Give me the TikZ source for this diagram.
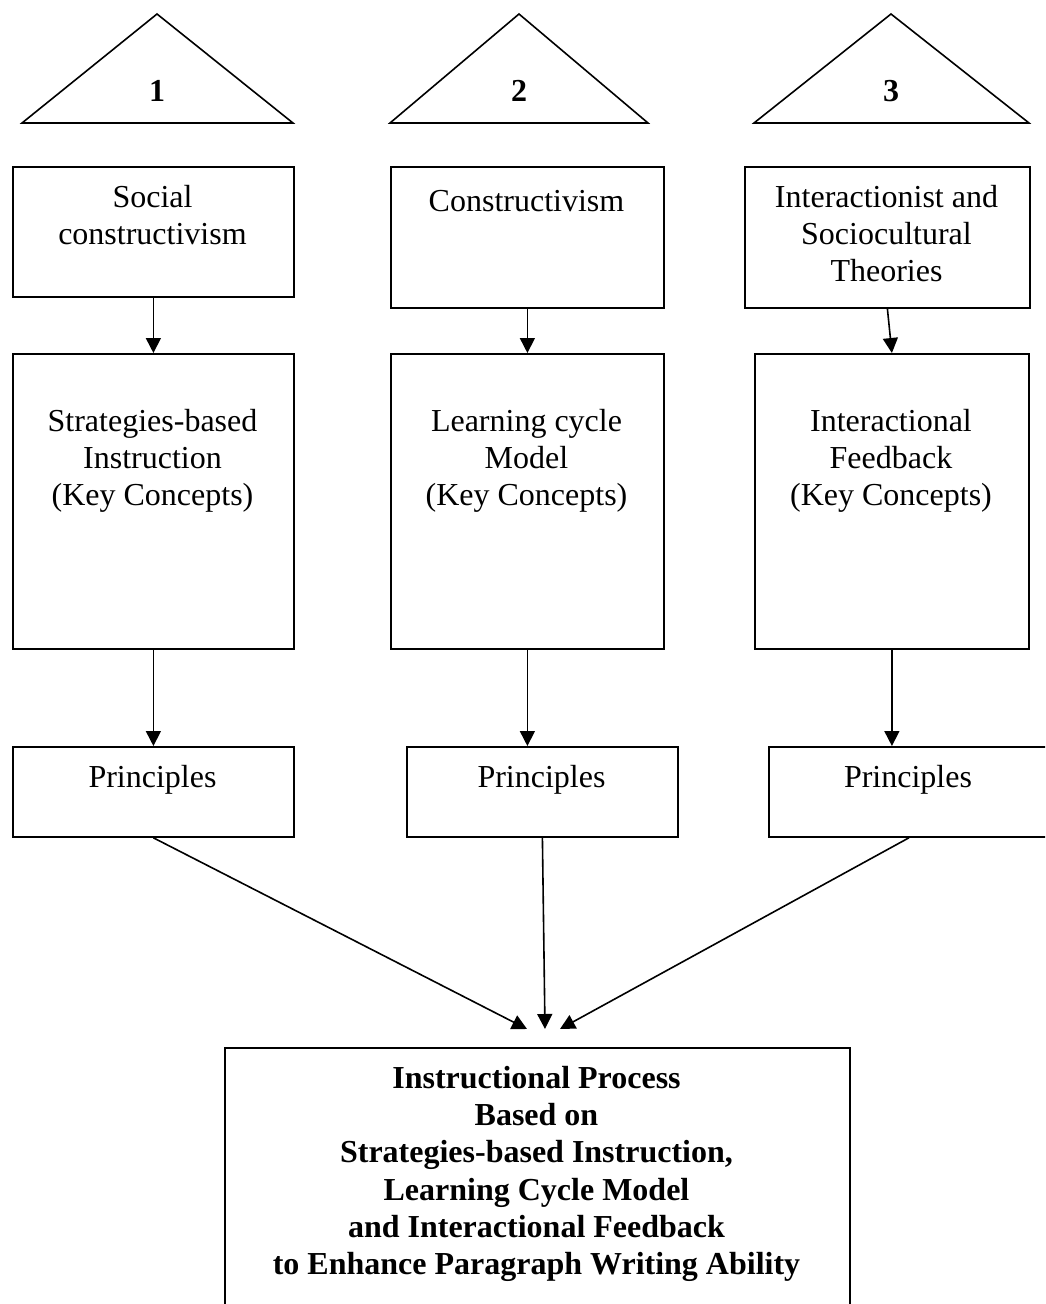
\documentclass[tikz,border=0pt]{standalone}
\usepackage{fontspec}
\setmainfont{Liberation Serif}
\usetikzlibrary{arrows.meta}
\begin{document}
\begin{tikzpicture}[x=1pt,y=-1pt,
  box/.style={draw, line width=1.8pt, inner sep=0pt, anchor=north west},
  tri/.style={draw, line width=1.6pt, line join=miter},
  txt/.style={anchor=north, align=center, inner sep=0pt,
    font=\fontsize{32}{37}\selectfont, execute at begin node=\strut},
  num/.style={txt, font=\fontsize{32}{37}\selectfont\bfseries},
  conn/.style={line width=1.6pt, -{Triangle[length=15pt,width=15pt]}}]
\useasboundingbox (0,0) rectangle (1045,1304);
\clip (0,0) rectangle (1045,1304);

% numbered roofs
\draw[tri] (22,123) -- (157,14) -- (293,123) -- cycle;
\draw[tri] (390,123) -- (519,14) -- (648,123) -- cycle;
\draw[tri] (754,123) -- (891,14) -- (1029,123) -- cycle;
\node[num] (n1) at (157,75) {1};
\node[num] (n2) at (519,75) {2};
\node[num] (n3) at (891,75) {3};

% theories
\node[box, minimum width=281pt, minimum height=130pt] (a1) at (12,166) {};
\node[box, minimum width=273pt, minimum height=141pt] (a2) at (390,166) {};
\node[box, minimum width=285pt, minimum height=141pt] (a3) at (744,166) {};
\node[txt] (ta1) at (152.5,185) {Social\\constructivism};
\node[txt] (ta2) at (526.5,185) {Constructivism};
\node[txt] (ta3) at (886.5,185) {Interactionist and\\Sociocultural\\Theories};

% key concepts
\node[box, minimum width=281pt, minimum height=295pt] (b1) at (12,353) {};
\node[box, minimum width=273pt, minimum height=295pt] (b2) at (390,353) {};
\node[box, minimum width=274pt, minimum height=295pt] (b3) at (754,353) {};
\node[txt] (tb1) at (152.5,409) {Strategies-based\\Instruction\\(Key Concepts)};
\node[txt] (tb2) at (526.5,409) {Learning cycle\\Model\\(Key Concepts)};
\node[txt] (tb3) at (891,409) {Interactional\\Feedback\\(Key Concepts)};

% principles
\node[box, minimum width=281pt, minimum height=90pt] (c1) at (12,746) {};
\node[box, minimum width=271pt, minimum height=90pt] (c2) at (406,746) {};
\node[box, minimum width=280pt, minimum height=90pt] (c3) at (768,746) {};
\node[txt] (tc1) at (152.5,761) {Principles};
\node[txt] (tc2) at (541.5,761) {Principles};
\node[txt] (tc3) at (908,761) {Principles};

% instructional process
\node[box, minimum width=625pt, minimum height=280pt] (d) at (224,1047) {};
\node[txt, font=\fontsize{32}{37.2}\selectfont\bfseries] (td) at (536.5,1066) {Instructional Process\\Based on\\Strategies-based Instruction,\\Learning Cycle Model\\and Interactional Feedback\\to Enhance Paragraph Writing Ability};

% connectors
\draw[conn] (a1.south) -- (b1.north);
\draw[conn] (a2.south) -- (a2.south |- b2.north);
\draw[conn] (a3.south) -- (b3.north);
\draw[conn] (b1.south) -- (b1.south |- c1.north);
\draw[conn] (b2.south) -- (b2.south |- c2.north);
\draw[conn] (b3.south) -- (b3.south |- c3.north);
\coordinate (p1) at (527,1029);
\coordinate (p2) at (545,1029);
\coordinate (p3) at (560,1029);
\draw[conn] (c1.south) -- (p1);
\draw[conn] (c2.south) -- (p2);
\draw[conn] (c3.south) -- (p3);
\end{tikzpicture}
\end{document}
